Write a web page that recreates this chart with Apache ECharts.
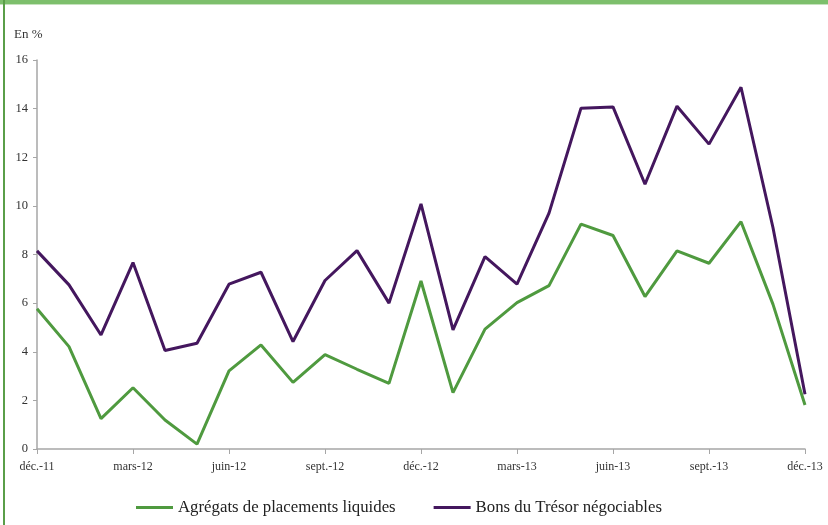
<!DOCTYPE html>
<html><head><meta charset="utf-8">
<script src="https://cdn.jsdelivr.net/npm/echarts@6/dist/echarts.min.js"></script>
<style>
html,body{margin:0;padding:0;background:#fff;}
#wrap{position:relative;width:828px;height:525px;overflow:hidden;}
#chart{position:absolute;left:0;top:0;width:828px;height:525px;}
#topbar{position:absolute;left:0;top:0;width:828px;height:4px;background:#7dbf6c;}
#topbar2{position:absolute;left:0;top:4px;width:828px;height:1px;background:#c5e2bd;}
#leftbar{position:absolute;left:3px;top:0;width:2px;height:525px;background:#5a9e48;}
</style></head>
<body><div id="wrap"><div id="chart"></div><div id="topbar"></div><div id="topbar2"></div><div id="leftbar"></div></div>
<script>
const categories = ['déc.-11','janv.-12','févr.-12','mars-12','avr.-12','mai-12','juin-12','juil.-12','août-12','sept.-12','oct.-12','nov.-12','déc.-12','janv.-13','févr.-13','mars-13','avr.-13','mai-13','juin-13','juil.-13','août-13','sept.-13','oct.-13','nov.-13','déc.-13'];
const agregats = [5.77,4.21,1.25,2.52,1.19,0.2,3.21,4.28,2.74,3.88,3.28,2.70,6.91,2.32,4.93,6.02,6.72,9.25,8.78,6.27,8.15,7.64,9.35,5.95,1.81];
const bons = [8.15,6.75,4.69,7.67,4.05,4.35,6.78,7.27,4.42,6.93,8.16,6.0,10.08,4.9,7.91,6.78,9.7,14.02,14.07,10.89,14.1,12.54,14.88,9.1,2.25];
const yTicks = {min:0, max:16, interval:2};
const font = "'Liberation Serif', 'DejaVu Serif', serif";
const chart = echarts.init(document.getElementById('chart'));
chart.setOption({
  animation:false,
  textStyle:{fontFamily:font},
  grid:{left:37,right:23,top:60,bottom:76,containLabel:false},
  graphic:[{type:'text',left:14,top:28,style:{text:'En %',fontFamily:font,fontSize:13,fill:'#333'}}],
  legend:{bottom:4,left:131,itemWidth:37,itemHeight:3,itemGap:38,itemTextGap:5,icon:'rect',
    textStyle:{fontFamily:font,fontSize:16.8,color:'#222'},
    data:['Agrégats de placements liquides','Bons du Trésor négociables']},
  xAxis:{type:'category',data:categories,boundaryGap:false,
    axisLine:{lineStyle:{color:'#a6a6a6',width:1.5}},
    axisTick:{interval:2,length:5,lineStyle:{color:'#a6a6a6'}},
    axisLabel:{interval:2,color:'#333',fontSize:12,fontFamily:font,margin:12}},
  yAxis:{type:'value',min:yTicks.min,max:yTicks.max,interval:yTicks.interval,
    axisLine:{show:true,lineStyle:{color:'#a6a6a6',width:1.5}},
    axisTick:{show:true,length:4,lineStyle:{color:'#a6a6a6'}},
    splitLine:{show:false},
    axisLabel:{color:'#333',fontSize:12.5,fontFamily:font,margin:9}},
  series:[
    {name:'Agrégats de placements liquides',type:'line',data:agregats,symbol:'none',
      lineStyle:{color:'#4f9a3f',width:3},itemStyle:{color:'#4f9a3f'}},
    {name:'Bons du Trésor négociables',type:'line',data:bons,symbol:'none',
      lineStyle:{color:'#44175e',width:3},itemStyle:{color:'#44175e'}}
  ]
});
</script></body></html>
